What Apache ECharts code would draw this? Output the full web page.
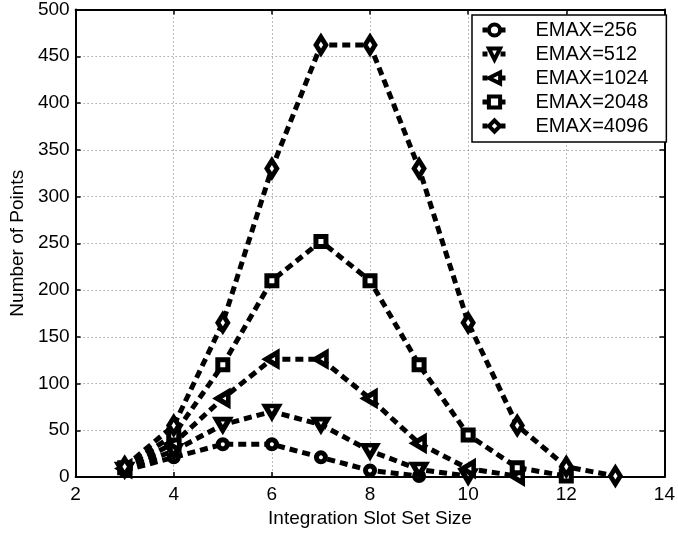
<!DOCTYPE html>
<html>
<head>
<meta charset="utf-8">
<script src="https://cdn.jsdelivr.net/npm/echarts@6/dist/echarts.min.js"></script>
<style>
  html, body { margin: 0; padding: 0; background: #fff; }
  #chart { width: 678px; height: 534px; }
</style>
</head>
<body>
<div id="chart"></div>
<script>
// Slot set sizes and point counts for each EMAX setting
const xTicks = [2, 4, 6, 8, 10, 12, 14];
const seriesNames = ['EMAX=256', 'EMAX=512', 'EMAX=1024', 'EMAX=2048', 'EMAX=4096'];

const x256 = [3, 4, 5, 6, 7, 8, 9];
const y256 = [7, 21, 35, 35, 21, 7, 1];

const x512 = [3, 4, 5, 6, 7, 8, 9, 10];
const y512 = [8, 28, 56, 70, 56, 28, 8, 1];

const x1024 = [3, 4, 5, 6, 7, 8, 9, 10, 11];
const y1024 = [9, 36, 84, 126, 126, 84, 36, 9, 1];

const x2048 = [3, 4, 5, 6, 7, 8, 9, 10, 11, 12];
const y2048 = [10, 45, 120, 210, 252, 210, 120, 45, 10, 1];

const x4096 = [3, 4, 5, 6, 7, 8, 9, 10, 11, 12, 13];
const y4096 = [11, 55, 165, 330, 462, 462, 330, 165, 55, 11, 1];

const FONT = '"Liberation Sans", Arial, Helvetica, sans-serif';

function pairs(xs, ys) {
  return xs.map((x, i) => [x, ys[i]]);
}

const markerSpecs = [
  { symbol: 'circle', size: 9, rotate: 0 },
  { symbol: 'triangle', size: [13, 11], rotate: 180 },
  { symbol: 'triangle', size: [13, 11], rotate: 90 },
  { symbol: 'rect', size: 10, rotate: 0 },
  { symbol: 'diamond', size: [10, 16], rotate: 0 }
];

const dataSets = [
  pairs(x256, y256),
  pairs(x512, y512),
  pairs(x1024, y1024),
  pairs(x2048, y2048),
  pairs(x4096, y4096)
];

const series = dataSets.map((d, i) => ({
  name: seriesNames[i],
  type: 'line',
  xAxisIndex: 0,
  yAxisIndex: 0,
  data: d,
  symbol: markerSpecs[i].symbol,
  symbolSize: markerSpecs[i].size,
  symbolRotate: markerSpecs[i].rotate,
  showAllSymbol: true,
  clip: false,
  lineStyle: { color: '#000', width: 5, type: [8, 5] },
  itemStyle: { color: '#fff', borderColor: '#000', borderWidth: 5 },
  emphasis: { disabled: true },
  animation: false,
  z: 3 + i
}));

const frameAxisLine = { show: true, onZero: false, lineStyle: { color: '#000', width: 2 } };
const innerTick = { show: true, inside: true, length: 5, lineStyle: { color: '#000', width: 1.5 } };
const gridDots = { show: true, lineStyle: { color: '#777', width: 1, type: [1, 3] } };

const chart = echarts.init(document.getElementById('chart'), null, { renderer: 'canvas' });
chart.setOption({
  backgroundColor: '#fff',
  animation: false,
  grid: { left: 73, right: 9, top: 8, bottom: 57, containLabel: false },
  legend: {
    orient: 'vertical',
    left: 472,
    top: 15,
    padding: [5, 18, 6, 8],
    itemGap: 4,
    itemWidth: 24,
    itemHeight: 14,
    borderColor: '#000',
    borderWidth: 1.5,
    backgroundColor: '#fff',
    data: seriesNames,
    lineStyle: { color: '#000', width: 5, type: [5, 4] },
    itemStyle: { color: '#fff', borderColor: '#000', borderWidth: 4 },
    textStyle: { fontFamily: FONT, fontSize: 20, color: '#000', padding: [0, 0, 0, 24] }
  },
  xAxis: [
    {
      type: 'value', min: 2, max: 14, interval: 2, position: 'bottom',
      name: 'Integration Slot Set Size', nameLocation: 'middle', nameGap: 31,
      nameTextStyle: { fontFamily: FONT, fontSize: 19, color: '#000' },
      axisLine: frameAxisLine, axisTick: innerTick,
      axisLabel: { fontFamily: FONT, fontSize: 19, color: '#000', margin: 8 },
      splitLine: gridDots
    },
    {
      type: 'value', min: 2, max: 14, interval: 2, position: 'top',
      axisLine: frameAxisLine, axisTick: innerTick,
      axisLabel: { show: false }, splitLine: { show: false }
    }
  ],
  yAxis: [
    {
      type: 'value', min: 0, max: 500, interval: 50, position: 'left',
      name: 'Number of Points', nameLocation: 'middle', nameGap: 44,
      nameTextStyle: { fontFamily: FONT, fontSize: 19, color: '#000' },
      axisLine: frameAxisLine, axisTick: innerTick,
      axisLabel: { fontFamily: FONT, fontSize: 19, color: '#000', margin: 6 },
      splitLine: gridDots
    },
    {
      type: 'value', min: 0, max: 500, interval: 50, position: 'right',
      axisLine: frameAxisLine, axisTick: innerTick,
      axisLabel: { show: false }, splitLine: { show: false }
    }
  ],
  series: series
});
</script>
</body>
</html>
